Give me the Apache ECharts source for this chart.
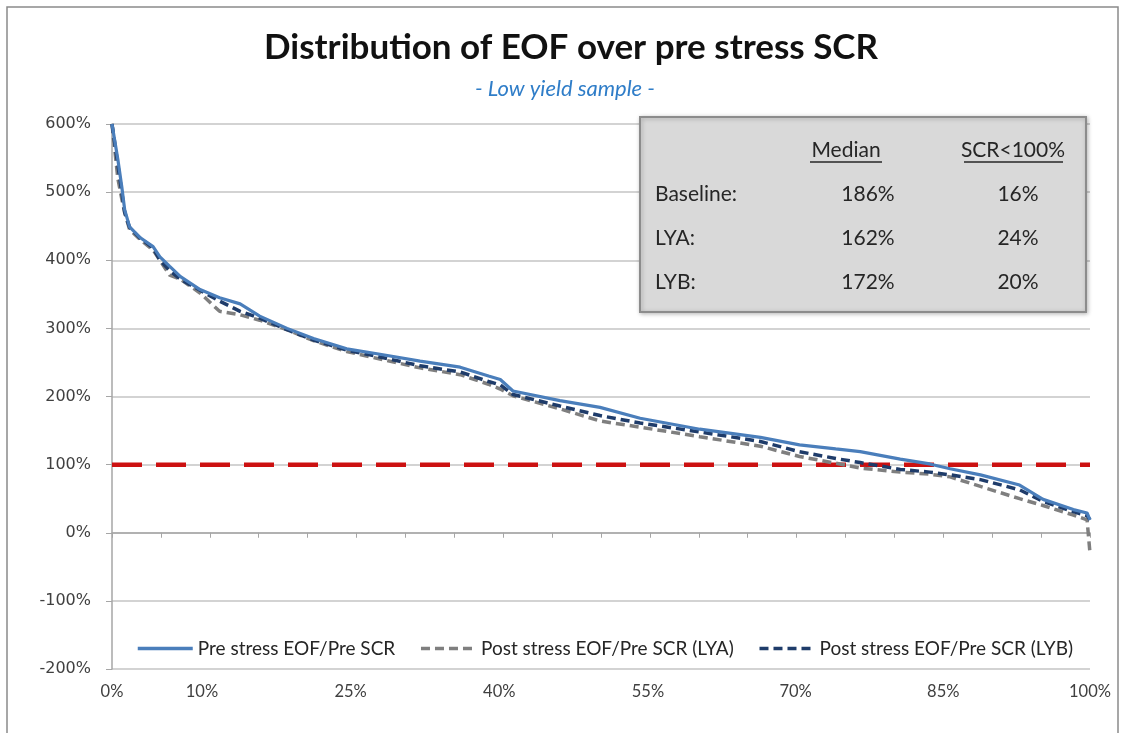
<!DOCTYPE html>
<html>
<head>
<meta charset="utf-8">
<script src="https://cdn.jsdelivr.net/npm/echarts@6/dist/echarts.min.js"></script>
<style>
  html, body { margin: 0; padding: 0; background: #fff; }
  #chart { width: 1127px; height: 733px; }
</style>
</head>
<body>
<div id="chart"></div>
<script>
// percentile rank of each sampled point (x axis, % of portfolio)
var pct = [0, 0.6, 1.0, 1.3, 1.8, 2.9, 4.2, 4.9, 5.9, 7.0,
  9.0, 11.0, 13.1, 15.1, 17.9, 20.6, 24.0, 27.4, 31.5, 35.6,
  38.5, 39.7, 41.0, 45.8, 49.9, 54.0, 60.1, 66.3, 70.3, 74.0,
  76.5, 80.6, 83.6, 85.7, 88.8, 92.8, 95.2, 98.3, 99.7, 100];
// EOF / pre SCR in %
var baseline = [600, 548, 508, 474, 449, 433, 420, 405, 391, 376,
  357, 345, 336, 318, 300, 285, 270, 262, 252, 243,
  230, 225, 208, 194, 184, 168, 152, 140, 129, 123,
  119, 108, 101, 94, 85, 70, 49, 34, 29, 19];
var lya = [600, 520, 490, 470, 445, 430, 415, 400, 378, 372,
  352, 325, 320, 312, 298, 282, 266, 255, 242, 232,
  218, 211, 201, 182, 164, 155, 141, 127, 112, 102,
  95, 89, 86, 82, 68, 50, 40, 26, 19, -30];
var lyb = [600, 540, 500, 470, 448, 432, 418, 400, 385, 372,
  356, 340, 325, 315, 298, 283, 268, 258, 245, 236,
  222, 217, 203, 186, 172, 161, 148, 134, 119, 109,
  103, 93, 89, 85, 78, 63, 46, 31, 25, 19];
var seriesNames = ['Pre stress EOF/Pre SCR', 'Post stress EOF/Pre SCR (LYA)', 'Post stress EOF/Pre SCR (LYB)'];
var refX = [0, 100];
var refLevel = 100;

// x tick labels as printed on the chart, and where they sit
var xLabelPos = [0, 9.2, 24.4, 39.6, 54.8, 69.9, 85, 100];
var xLabelText = ['0%', '10%', '25%', '40%', '55%', '70%', '85%', '100%'];

// summary box
var tableHead = ['Median', 'SCR<100%'];
var tableRows = ['Baseline:', 'LYA:', 'LYB:'];
var medians = ['186%', '162%', '172%'];
var belowShares = ['16%', '24%', '20%'];

function pairs(ys) {
  return ys.map(function (y, i) { return [pct[i], y]; });
}

var FONT = 'Lato';
var chart = echarts.init(document.getElementById('chart'));

var graphics = [
  { type: 'rect', shape: { x: 7, y: 7, width: 1111, height: 740 },
    style: { fill: 'none', stroke: '#8a8a8a', lineWidth: 1.5 }, z: 0 },
  { type: 'rect', shape: { x: 640, y: 117, width: 446, height: 195 },
    style: { fill: '#d9d9d9', stroke: '#8c8c8c', lineWidth: 2,
      shadowBlur: 4, shadowColor: 'rgba(0,0,0,0.25)', shadowOffsetX: 1, shadowOffsetY: 1 }, z: 10 }
];
var headX = [846, 1013];
tableHead.forEach(function (t, i) {
  graphics.push({ type: 'text', x: headX[i], y: 150, z: 11,
    style: { text: t, font: '21px ' + FONT, fill: '#262626', align: 'center', verticalAlign: 'middle' } });
});
graphics.push({ type: 'line', shape: { x1: 810, y1: 162, x2: 882, y2: 162 }, style: { stroke: '#262626', lineWidth: 1.3 }, z: 11 });
graphics.push({ type: 'line', shape: { x1: 964, y1: 162, x2: 1063, y2: 162 }, style: { stroke: '#262626', lineWidth: 1.3 }, z: 11 });
var rowY = [194, 238, 282];
tableRows.forEach(function (t, i) {
  graphics.push({ type: 'text', x: 655, y: rowY[i], z: 11,
    style: { text: t, font: '21px ' + FONT, fill: '#262626', align: 'left', verticalAlign: 'middle' } });
  graphics.push({ type: 'text', x: 868, y: rowY[i], z: 11,
    style: { text: medians[i], font: '21px ' + FONT, fill: '#262626', align: 'center', verticalAlign: 'middle' } });
  graphics.push({ type: 'text', x: 1018, y: rowY[i], z: 11,
    style: { text: belowShares[i], font: '21px ' + FONT, fill: '#262626', align: 'center', verticalAlign: 'middle' } });
});

chart.setOption({
  backgroundColor: '#fff',
  animation: false,
  title: [{
    text: 'Distribution of EOF over pre stress SCR',
    left: 566, top: 25, textAlign: 'center',
    textStyle: { fontFamily: FONT, fontSize: 35, fontWeight: 'bold', color: '#111' }
  }, {
    text: '- Low yield sample -',
    left: 560, top: 73, textAlign: 'center',
    textStyle: { fontFamily: FONT, fontSize: 22, fontStyle: 'italic', fontWeight: 'normal', color: '#2f7dc8' }
  }],
  legend: {
    data: seriesNames,
    left: 131, top: 634,
    itemWidth: 55, itemHeight: 10, itemGap: 24,
    itemStyle: { opacity: 0 },
    lineStyle: { width: 3.5 },
    textStyle: { fontFamily: FONT, fontSize: 19, color: '#262626' }
  },
  grid: { left: 112, right: 37, top: 124, bottom: 64 },
  xAxis: [{
    type: 'value', min: 0, max: 100, interval: 5,
    axisLine: { onZero: true, lineStyle: { color: '#a6a6a6', width: 1.5 } },
    axisTick: { show: true, length: 5, lineStyle: { color: '#a6a6a6' } },
    axisLabel: { show: false },
    splitLine: { show: false }
  }, {
    type: 'value', min: 0, max: 100, position: 'bottom',
    axisLine: { show: false, onZero: false },
    axisTick: { show: false },
    splitLine: { show: false },
    axisLabel: {
      customValues: xLabelPos,
      showMinLabel: true, showMaxLabel: true,
      margin: 14,
      fontFamily: FONT, fontSize: 16.5, color: '#404040',
      formatter: function (v) {
        var i = xLabelPos.indexOf(v);
        return i >= 0 ? xLabelText[i] : '';
      }
    }
  }],
  yAxis: {
    type: 'value', min: -200, max: 600, interval: 100,
    axisLine: { show: true, lineStyle: { color: '#a6a6a6', width: 1.5 } },
    axisTick: { show: true, length: 6, lineStyle: { color: '#a6a6a6' } },
    axisLabel: { fontFamily: 'DejaVu Sans', fontSize: 16, color: '#404040', margin: 21,
      formatter: function (v) { return v + '%'; } },
    splitLine: { lineStyle: { color: '#c4c4c4', width: 1.5 } }
  },
  graphic: graphics,
  series: [{
    name: seriesNames[0], type: 'line', data: pairs(baseline), showSymbol: false, symbol: 'none',
    lineStyle: { color: '#4a7ebb', width: 3.2 }, itemStyle: { color: '#4a7ebb' }, z: 5
  }, {
    name: seriesNames[1], type: 'line', data: pairs(lya), showSymbol: false, symbol: 'none',
    lineStyle: { color: '#7f7f7f', width: 3.5, type: [9, 5] }, itemStyle: { color: '#7f7f7f' }, z: 3
  }, {
    name: seriesNames[2], type: 'line', data: pairs(lyb), showSymbol: false, symbol: 'none',
    lineStyle: { color: '#1f3c6a', width: 3.5, type: [9, 5] }, itemStyle: { color: '#1f3c6a' }, z: 4
  }, {
    name: 'ref', type: 'line', data: refX.map(function (x) { return [x, refLevel]; }),
    showSymbol: false, symbol: 'none', silent: true,
    lineStyle: { color: '#cc1111', width: 4.5, type: [30, 14] }, z: 2
  }]
});
</script>
</body>
</html>
